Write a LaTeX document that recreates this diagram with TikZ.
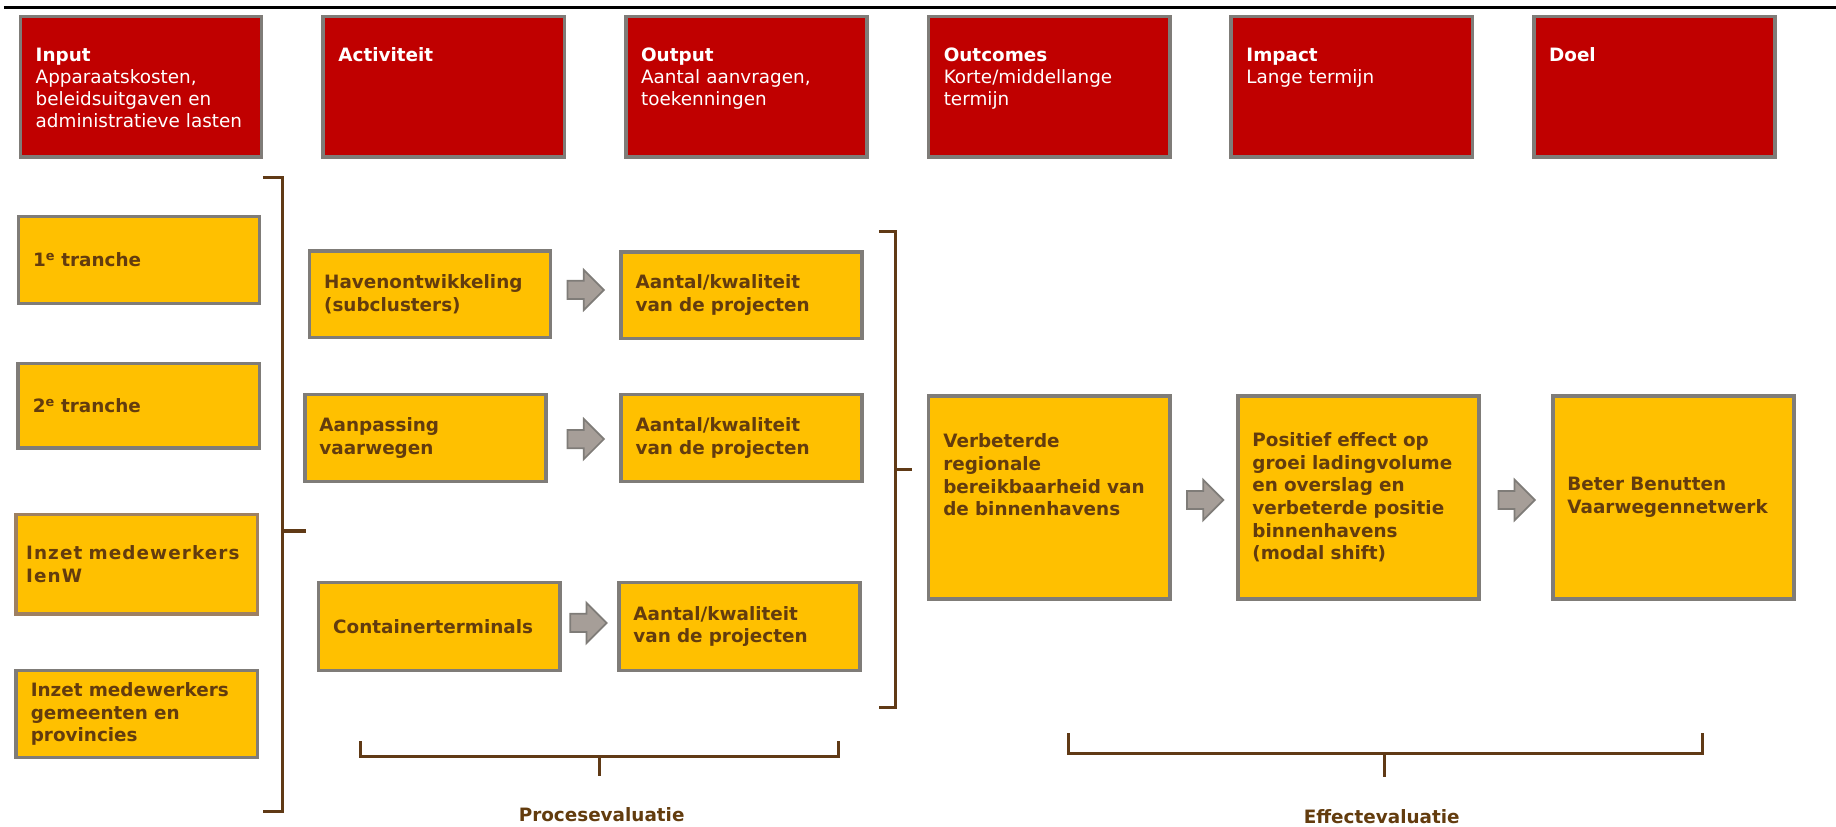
\documentclass[tikz,border=0pt]{standalone}
\usepackage{fontspec}
\setmainfont{DejaVu Sans}
\newfontfamily\ruimfont{DejaVu Sans}[LetterSpace=6]
\usepackage{tikz}
\usetikzlibrary{positioning,shapes.arrows}
\definecolor{kleurrood}{RGB}{192,0,0}
\definecolor{kleurgeel}{RGB}{255,192,0}
\definecolor{kleurrand}{RGB}{127,124,120}
\definecolor{kleurrandbruin}{RGB}{158,128,98}
\definecolor{kleurtekst}{RGB}{99,60,14}
\definecolor{kleurhaak}{RGB}{96,58,22}
\definecolor{kleurpijl}{RGB}{166,158,152}

\begin{document}
\begin{tikzpicture}[x=1pt,y=-1pt,     % Measure in points, downwards.
    kop/.style={                % Red column headers.
      rectangle,
      draw=kleurrand,
      fill=kleurrood,
      line width=3pt,
      text=white,
      align=left,
      anchor=north west,
      text width=180pt,
      inner xsep=13pt,
      inner ysep=0pt,
      text height=37.8pt,
      text depth=82.2pt,
      font=\fontsize{15.7pt}{18.8pt}\selectfont,
      node distance=49.5pt
    },
    vak/.style={                % Yellow content boxes.
      rectangle,
      draw=kleurrand,
      fill=kleurgeel,
      line width=3pt,
      text=kleurtekst,
      align=left,
      anchor=north west,
      text width=181pt,
      inner xsep=12.5pt,
      minimum height=74pt,
      font=\bfseries\fontsize{15.7pt}{19.3pt}\selectfont
    },
    pijl/.style={               % Grey block arrows between boxes.
      single arrow,
      draw=kleurrand,
      fill=kleurpijl,
      line width=1.5pt,
      inner sep=7pt,
      single arrow head extend=9.5pt,
      minimum height=31pt,
      anchor=tail
    },
    haak/.style={               % Brackets grouping the boxes.
      draw=kleurhaak,
      line width=2.6pt
    },
    lbl/.style={                % Labels under the brackets.
      text=kleurtekst,
      anchor=base,
      font=\bfseries\fontsize{15.7pt}{19.3pt}\selectfont
    }]

    \useasboundingbox (0,0) rectangle (1568,706);

    % Rule along the top of the page.
    \draw[line width=2.3pt] (3.4,6.3) -- (1568,6.3);

    % The row of column headers.
    \node[kop] (input) at (16,12.8) {\textbf{Input}\\Apparaatskosten,\\beleidsuitgaven en\\administratieve lasten};
    \node[kop] (activiteit) [right=of input] {\textbf{Activiteit}};
    \node[kop] (output) [right=of activiteit] {\textbf{Output}\\Aantal aanvragen,\\toekenningen};
    \node[kop] (outcomes) [right=of output] {\textbf{Outcomes}\\Korte/middellange\\termijn};
    \node[kop] (impact) [right=of outcomes] {\textbf{Impact}\\Lange termijn};
    \node[kop] (doelkop) [right=of impact] {\textbf{Doel}};

    % Input column.
    \node[vak] (tranche1) at (14.2,183.6) {1\textsuperscript{e} tranche};
    \node[vak,minimum height=72pt] (tranche2) at (14,309) {2\textsuperscript{e} tranche};
    \node[vak,draw=kleurrandbruin,minimum height=85pt,text width=189pt,inner xsep=8.5pt]
      (ienw) at (12.3,437.8) {\ruimfont Inzet medewerkers\\IenW};
    \node[vak] (gemeenten) at (12.3,571.3) {Inzet medewerkers\\gemeenten en\\provincies};

    % Activities and their outputs.
    \node[vak] (haven) at (262.8,212.9) {Havenontwikkeling\\(subclusters)};
    \node[vak,minimum height=74.4pt] (vaarwegen) at (258.8,335.3) {Aanpassing\\vaarwegen};
    \node[vak,minimum height=75pt] (containers) at (270.6,496) {Containerterminals};
    \node[vak] (output1) at (528.8,213.5) {Aantal/kwaliteit\\van de projecten};
    \node[vak,minimum height=74.4pt] (output2) at (528.8,335.3) {Aantal/kwaliteit\\van de projecten};
    \node[vak,minimum height=75pt] (output3) at (527,496) {Aantal/kwaliteit\\van de projecten};

    % Outcome, impact and goal.
    \node[vak,minimum height=173.5pt] (bereik) at (791.6,336.5)
      {Verbeterde\\regionale\\bereikbaarheid van\\de binnenhavens\\\mbox{}\\\mbox{}};
    \node[vak,minimum height=173.5pt] (effect) [right=55pt of bereik]
      {Positief effect op\\groei ladingvolume\\en overslag en\\verbeterde positie\\binnenhavens\\(modal shift)};
    \node[vak,minimum height=173.5pt] (doel) [right=60pt of effect]
      {Beter Benutten\\Vaarwegennetwerk};

    % Block arrows.
    \node[pijl] (pijl1) at (484,247.6) {};
    \node[pijl] (pijl2) at (484,375) {};
    \node[pijl] (pijl3) at (486.3,532) {};
    \node[pijl] (pijl4) at (1013,427) {};
    \node[pijl] (pijl5) at (1279,427) {};

    % Brackets round the inputs and the outputs.
    \draw[haak] (224.5,151.7) -- (241,151.7) -- (241,693) -- (224.5,693);
    \draw[haak] (241,453.5) -- (261.5,453.5);
    \draw[haak] (750.5,198) -- (764.5,198) -- (764.5,604) -- (750.5,604);
    \draw[haak] (764.5,400.8) -- (779,400.8);

    % Brackets over the two kinds of evaluation.
    \draw[haak] (307.9,633) -- (307.9,646) -- (715.7,646) -- (715.7,633);
    \draw[haak] (511.8,646) -- (511.8,662.7);
    \draw[haak] (912.4,626.3) -- (912.4,643.3) -- (1454.3,643.3) -- (1454.3,626.3);
    \draw[haak] (1182.6,643.3) -- (1182.6,663.8);
    \node[lbl] (proces) at (513.8,701.7) {Procesevaluatie};
    \node[lbl] (effecteval) at (1180,703) {Effectevaluatie};
  \end{tikzpicture}
\end{document}
